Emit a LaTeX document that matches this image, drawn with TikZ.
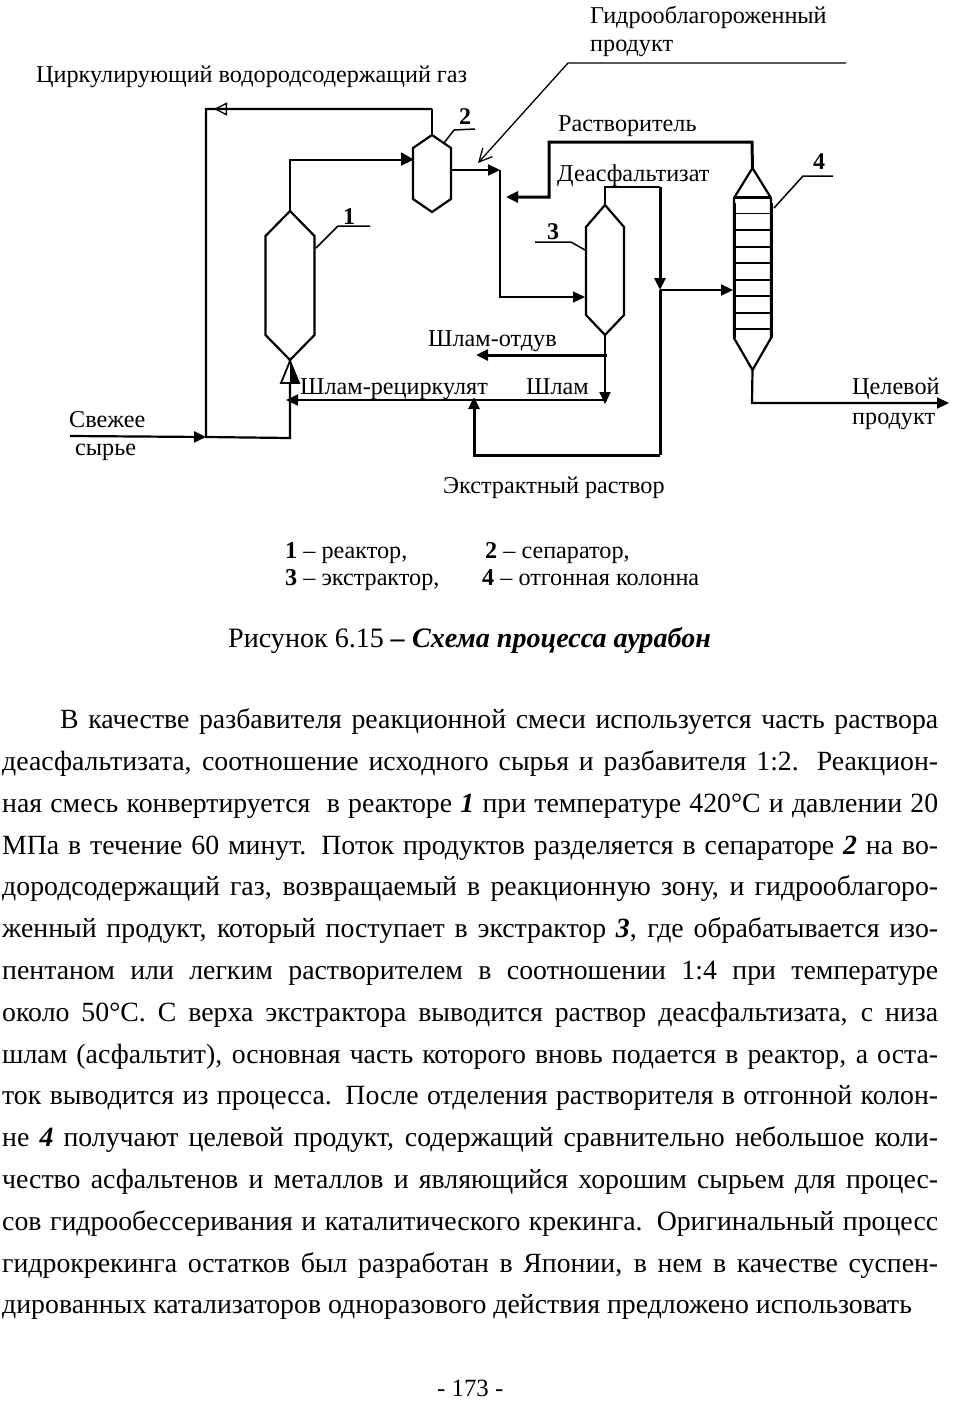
\documentclass[tikz,border=0pt]{standalone}
\usepackage{fontspec}
\setmainfont{Liberation Serif}
\usetikzlibrary{calc,arrows.meta}
\tikzset{
  lab/.style={anchor=base west,inner sep=0pt,font=\fontsize{24.2}{26}\selectfont},
  num/.style={anchor=base,inner sep=0pt,font=\fontsize{24}{26}\selectfont\bfseries},
  vessel/.style={line width=2.2pt},
  pipe/.style={line width=2.2pt},
  thinpipe/.style={line width=1.3pt},
  thickpipe/.style={line width=3pt},
  leader/.style={line width=1.5pt},
  fa/.style={-{Triangle[length=12pt,width=11pt]}},
  oa/.style={-{Triangle[open,length=13pt,width=13pt]}},
  sa/.style={-{Straight Barb[length=13pt,width=13pt]}}
}
\newcommand{\Vessel}[7]{% name, x, half width, top, shoulder, lower shoulder, tip
  \coordinate (#1top) at (#2,#4);
  \coordinate (#1bot) at (#2,#7);
  \draw[vessel] (#1top) -- (#2+#3,#5) -- (#2+#3,#6) -- (#1bot) -- (#2-#3,#6) -- (#2-#3,#5) -- cycle;
}
\begin{document}
\begin{tikzpicture}[x=1pt,y=-1pt]
\useasboundingbox (0,0) rectangle (957,1406);
% vessels
\Vessel{reactor}{290}{24.5}{211}{236}{335}{360}
\Vessel{sep}{432}{19}{135}{148}{199}{212}
\Vessel{extr}{605}{19}{205}{227}{315}{335}
\Vessel{col}{752.5}{18.5}{168}{198}{338}{370}
\foreach \y in {213.5,230,247,263,280,296,313,329}
  \draw[thinpipe] (734,\y) -- (771,\y);
\draw[thickpipe] (734,197) -- (771,197);
\draw[thickpipe] (734,203) -- (734,338) (771,203) -- (771,338);
% junctions
\coordinate (feed) at (70,436);
\coordinate (mix) at (206,437);
\coordinate (gasturn) at (206,109);
\coordinate (gastop) at (432,109);
\coordinate (prod) at (500,170);
\coordinate (prodturn) at (500,297);
\coordinate (extrin) at (585,297);
\coordinate (seain) at (413,160);
\coordinate (seaup) at (290,160);
\coordinate (sepout) at (451,170);
\coordinate (hpstart) at (846,63);
\coordinate (hpturn) at (568,63);
\coordinate (hpend) at (478,163);
\coordinate (solvup) at (752,142);
\coordinate (solvturn) at (549,142);
\coordinate (solvlow) at (549,197);
\coordinate (solvend) at (506,197);
\coordinate (dasup) at (605,187);
\coordinate (dasturn) at (660,187);
\coordinate (jet) at (660,290);
\coordinate (colin) at (733,290);
\coordinate (exlow) at (660,455);
\coordinate (exturn) at (474,455);
\coordinate (exend) at (474,397);
\coordinate (slsplit) at (607,355);
\coordinate (slvent) at (476,355);
\coordinate (slend) at (605,404);
\coordinate (recstart) at (607,400);
\coordinate (recend) at (286,400);
\coordinate (feedturn) at (290,438);
\coordinate (prodlow) at (752,403);
\coordinate (prodend) at (949,403);
% pipes
\draw[pipe,fa] (feed) -- (mix);
\draw[pipe] (gastop) -- (gasturn) -- (mix) -- (feedturn) -- (reactorbot);
\draw[pipe] (septop) -- (gastop);
\draw[thinpipe,oa] (gastop) -- (214,109);
\draw[pipe,fa] (reactortop) -- (seaup) -- (seain);
\draw[pipe,fa] (sepout) -- (prod);
\draw[thinpipe,fa] (prod) -- (prodturn) -- (extrin);
\draw[thinpipe,sa] (hpstart) -- (hpturn) -- (hpend);
\draw[thickpipe,fa] (coltop) -- (solvup) -- (solvturn) -- (solvlow) -- (solvend);
\draw[pipe] (extrtop) -- (dasup) -- (dasturn);
\draw[thickpipe,fa] (dasturn) -- (jet);
\draw[thickpipe] (jet) -- (exlow);
\draw[thickpipe,fa] (exlow) -- (exturn) -- (exend);
\draw[pipe,fa] (jet) -- (colin);
\draw[pipe,fa] (extrbot) -- (slend);
\draw[thickpipe,fa] (slsplit) -- (slvent);
\draw[pipe,fa] (recstart) -- (recend);
\draw[pipe,fa] (colbot) -- (prodlow) -- (prodend);
% half open tips
\draw[line width=1.8pt,fill=white] (290,361) -- (281,383) -- (299,383) -- cycle;
\fill (290,361) -- (290,383) -- (299,383) -- cycle;
\draw[line width=1.5pt] (401,153) -- (413,160) -- (401,154);
% leaders
\draw[leader] (316,248) -- (338,226) -- (370,226);
\draw[leader] (444,143) -- (454,130) -- (475,129);
\draw[leader] (585,250) -- (571,242) -- (535,242);
\draw[leader] (774,208) -- (803,176) -- (833,176);
\node[num] (n1) at (349,224) {1};
\node[num] (n2) at (465,124) {2};
\node[num] (n3) at (553,239) {3};
\node[num] (n4) at (819,169) {4};
% labels
\node[lab] (hp1) at (590,23) {Гидрооблагороженный};
\node[lab] (hp2) at (590,51) {продукт};
\node[lab] (gas) at (36,82) {Циркулирующий водородсодержащий газ};
\node[lab] (solv) at (558,131) {Растворитель};
\node[lab] (das) at (557,181) {Деасфальтизат};
\node[lab] (vent) at (428,346) {Шлам-отдув};
\node[lab] (recy) at (300,394) {Шлам-рециркулят};
\node[lab] (sl) at (526,394) {Шлам};
\node[lab] (fresh1) at (69,427) {Свежее};
\node[lab] (fresh2) at (75,455) {сырье};
\node[lab] (tp1) at (852,394) {Целевой};
\node[lab] (tp2) at (852,424) {продукт};
\node[lab] (exr) at (443,493) {Экстрактный раствор};
% legend
\node[lab] (leg1) at (285,558) {\textbf{1} -- реактор,};
\node[lab] (leg2) at (485,558) {\textbf{2} -- сепаратор,};
\node[lab] (leg3) at (285,585) {\textbf{3} -- экстрактор,};
\node[lab] (leg4) at (482,585) {\textbf{4} -- отгонная колонна};
% caption and page
\node[lab,font=\fontsize{28.1}{30}\selectfont] (capt) at (228,647) {Рисунок 6.15 \textbf{\textit{-- Схема процесса аурабон}}};
\node[lab,font=\fontsize{24.8}{30}\selectfont] (page) at (437,1396) {- 173 -};
\node[anchor=north west,inner sep=0pt,text width=936pt,align=justify,font=\fontsize{27.8}{41.8}\selectfont] (body) at (2,708.5) {%
\sloppy\parfillskip=0pt\leavevmode\hskip58pt
В качестве разбавителя реакционной смеси используется часть раствора\linebreak
деасфальтизата, соотношение исходного сырья и разбавителя 1:2. Реакцион-\linebreak
ная смесь конвертируется~ в реакторе \textbf{\textit{1}} при температуре 420°С и давлении 20\linebreak
МПа в течение 60 минут. Поток продуктов разделяется в сепараторе \textbf{\textit{2}} на во-\linebreak
дородсодержащий газ, возвращаемый в реакционную зону, и гидрооблагоро-\linebreak
женный продукт, который поступает в экстрактор \textbf{\textit{3}}, где обрабатывается изо-\linebreak
пентаном или легким растворителем в соотношении 1:4 при температуре\linebreak
около 50°С. С верха экстрактора выводится раствор деасфальтизата, с низа\linebreak
шлам (асфальтит), основная часть которого вновь подается в реактор, а оста-\linebreak
ток выводится из процесса. После отделения растворителя в отгонной колон-\linebreak
не \textbf{\textit{4}} получают целевой продукт, содержащий сравнительно небольшое коли-\linebreak
чество асфальтенов и металлов и являющийся хорошим сырьем для процес-\linebreak
сов гидрообессеривания и каталитического крекинга. Оригинальный процесс\linebreak
гидрокрекинга остатков был разработан в Японии, в нем в качестве суспен-\linebreak
дированных катализаторов одноразового действия предложено использовать};
\end{tikzpicture}
\end{document}
